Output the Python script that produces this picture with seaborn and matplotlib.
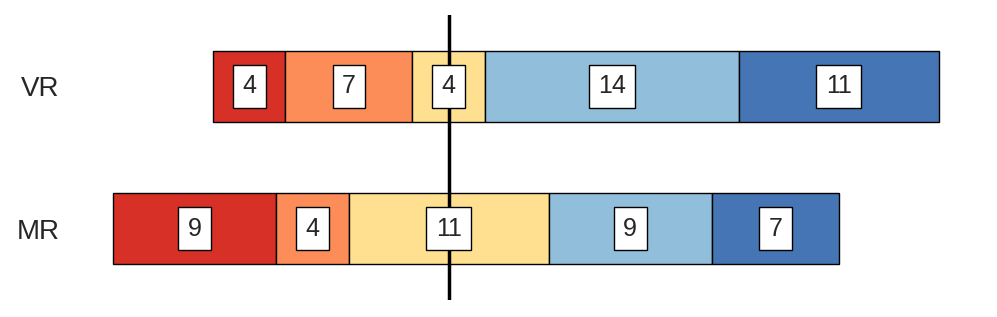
import numpy as np
import seaborn as sns
import matplotlib.pyplot as plt

# likert-style counts per group, from most negative to most positive
groups = ["MR", "VR"]
mr_counts = [9, 4, 11, 9, 7]
vr_counts = [4, 7, 4, 14, 11]
colors = ["#d73027", "#fc8d59", "#fee090", "#91bfdb", "#4575b4"]

sns.set_style("white")
plt.rcParams['font.family'] = ['Liberation Sans', 'DejaVu Sans']

fig = plt.figure(figsize=(9.97, 3.17), dpi=100)
ax = fig.add_axes([0.0861, 0.0536, 0.910, 0.899])

for yi, counts in enumerate([mr_counts, vr_counts]):
    counts = np.array(counts, dtype=float)
    # center the neutral segment on zero
    start = -(counts[0] + counts[1] + counts[2] / 2)
    lefts = start + np.concatenate([[0], np.cumsum(counts)[:-1]])
    ax.barh([yi] * len(counts), counts, left=lefts, height=0.5,
            color=colors, edgecolor="black", linewidth=1, zorder=2)
    for l, c in zip(lefts, counts):
        ax.text(l + c / 2, yi, f"{int(c)}", ha="center", va="center",
                fontsize=18, zorder=4,
                bbox=dict(boxstyle="square,pad=0.38", fc="white", ec="black", lw=1))

ax.axvline(0, color="black", lw=2.5, zorder=3)

ax.set_xlim(-20, 30)
ax.set_ylim(-0.5, 1.5)
ax.set_yticks([0, 1])
ax.set_yticklabels(groups, fontsize=20)
ax.tick_params(axis="y", length=0, pad=19)
ax.set_xticks([])
sns.despine(ax=ax, left=True, bottom=True)

fig.savefig("out.png", dpi=100)
